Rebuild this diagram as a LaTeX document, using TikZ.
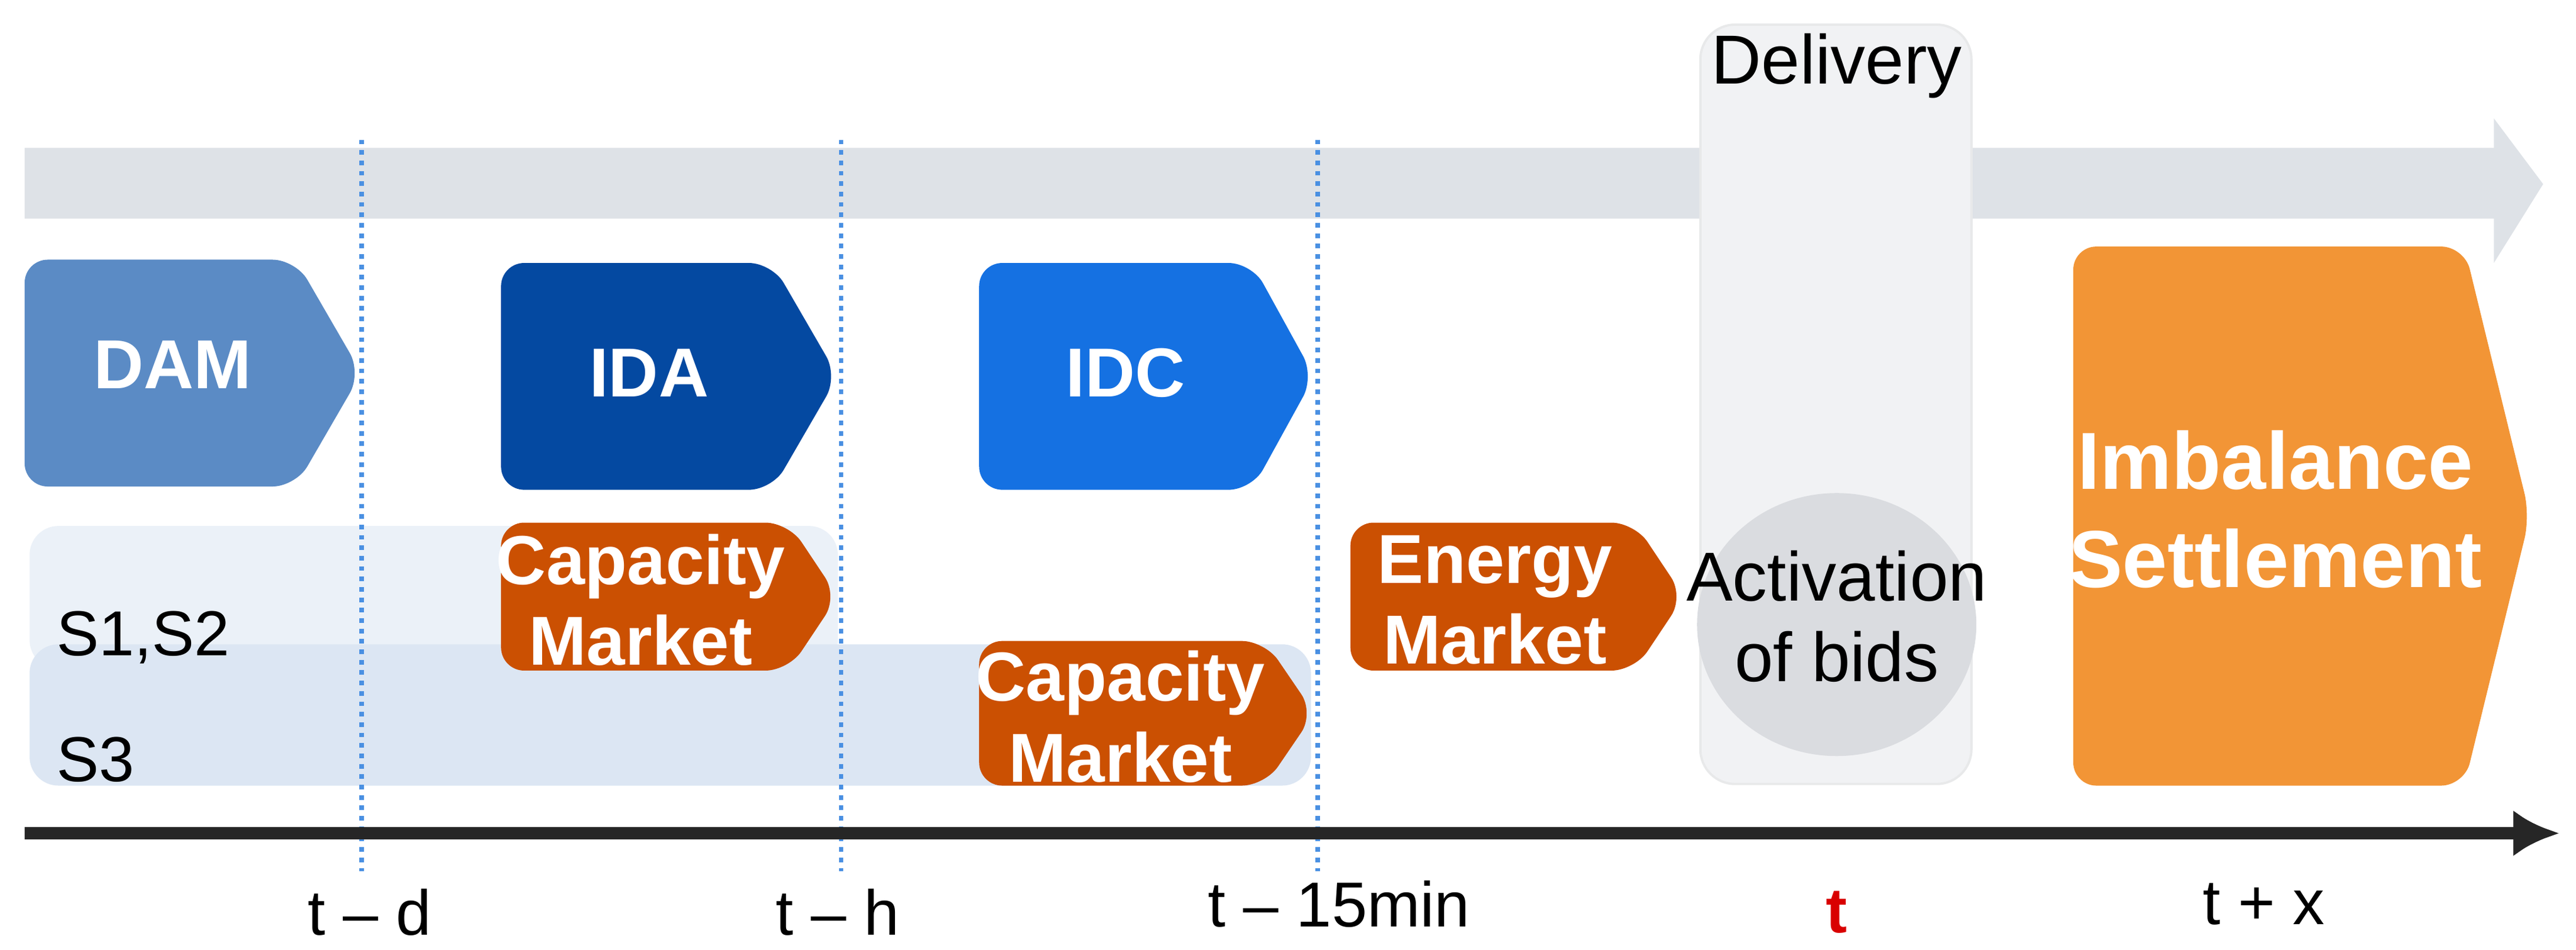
\documentclass[tikz,border=0pt]{standalone}
\usepackage{fontspec}
\setmainfont{Liberation Sans}
\usetikzlibrary{arrows.meta}
\definecolor{damblue}{HTML}{5B8BC5}
\definecolor{idablue}{HTML}{0449A1}
\definecolor{idcblue}{HTML}{1571E2}
\definecolor{mktorange}{HTML}{CB5002}
\definecolor{imborange}{HTML}{F29536}
\definecolor{bandone}{HTML}{EBF1F8}
\definecolor{bandtwo}{HTML}{DCE6F3}
\definecolor{timegray}{HTML}{DEE2E7}
\definecolor{delgray}{HTML}{F1F2F4}
\definecolor{bidgray}{HTML}{DADCE0}
\definecolor{marker}{HTML}{4A90E2}
\tikzset{
 lbl/.style={text=white,font=\bfseries\fontsize{12}{14}\selectfont,align=center},
 tick/.style={font=\fontsize{11}{13}\selectfont}
}
% chevron box: x1,y1,x2,y2,tip width,colour
\newcommand{\chevbox}[6]{
 \fill[#6,rounded corners=4] (#1,#2) -- ({#3-#5},#2) -- (#3,{(#2+#4)/2}) -- ({#3-#5},#4) -- (#1,#4) -- cycle;
}

\begin{document}
\begin{tikzpicture}[x=0.01cm,y=-0.01cm]
 \useasboundingbox (0,0) rectangle (1568,578);

 % time arrow at the top
 \fill[timegray] (15,90) -- (1518,90) -- (1518,72) -- (1548,112) -- (1518,160) -- (1518,133) -- (15,133) -- cycle;
 % delivery period
 \draw[delgray!90!black!60,fill=delgray,rounded corners=6] (1035,15) rectangle (1200,477);
 \node (delivery) at (1118,40) {\fontsize{12}{14}\selectfont Delivery};

 % bands
 \fill[bandone,rounded corners=5] (18,320) rectangle (510,407);
 \fill[bandtwo,rounded corners=5] (18,392) rectangle (798,478);
 \node[anchor=west,tick] (s12) at (22,388) {S1,S2};
 \node[anchor=west,tick] (s3) at (22,462) {S3};

 % markers
 \foreach \x in {220,512,802}
  \draw[marker,densely dotted,thick] (\x,85) -- (\x,530);

 \chevbox{15}{158}{220}{296}{40}{damblue}
 \node[lbl] (dam) at (105,222) {DAM};
 \chevbox{305}{160}{510}{298}{40}{idablue}
 \node[lbl] (ida) at (395,227) {IDA};
 \chevbox{596}{160}{800}{298}{38}{idcblue}
 \node[lbl] (idc) at (685,227) {IDC};

 \chevbox{305}{318}{510}{408}{30}{mktorange}
 \node[lbl] (cap1) at (390,365) {Capacity\\Market};
 \chevbox{596}{390}{800}{478}{30}{mktorange}
 \node[lbl] (cap2) at (682,436) {Capacity\\Market};
 \chevbox{822}{318}{1025}{408}{30}{mktorange}
 \node[lbl] (energy) at (910,365) {Energy\\Market};

 \fill[bidgray] (1118,380) ellipse (85 and 80);
 \node[align=center,font=\fontsize{12}{14}\selectfont] (bids) at (1118,375) {Activation\\of bids};

 \chevbox{1262}{150}{1540}{478}{40}{imborange}
 \node[lbl,font=\bfseries\fontsize{14}{17}\selectfont] (imb) at (1385,310) {Imbalance\\Settlement};

 % time axis
 \coordinate (a0) at (15,507);
 \coordinate (a1) at (1558,507);
 \draw[line width=2.2pt,black!85,-{Latex[length=8pt,width=8pt]}] (a0) -- (a1);

 \node[tick] (td) at (225,555) {t -- d};
 \node[tick] (th) at (510,555) {t -- h};
 \node[tick] (tm) at (815,550) {t -- 15min};
 \node[tick,text=red!85!black,font=\bfseries\fontsize{11}{13}\selectfont] (t) at (1118,555) {t};
 \node[tick] (tx) at (1378,550) {t + x};
\end{tikzpicture}
\end{document}
